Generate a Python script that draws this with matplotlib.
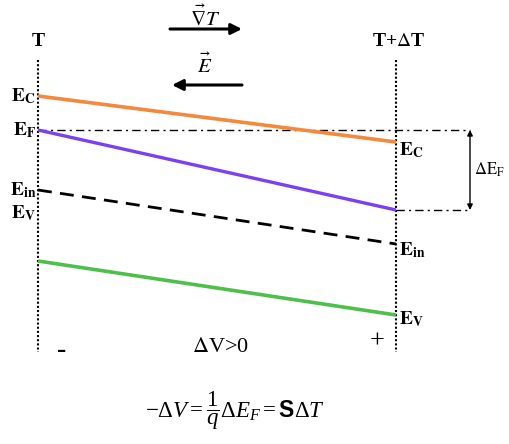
import matplotlib.pyplot as plt

plt.rcParams['font.family'] = ['Liberation Serif', 'DejaVu Serif']
plt.rcParams['mathtext.fontset'] = 'stix'
# custom math set, only used by the bottom formula (bold sans S)
plt.rcParams['mathtext.rm'] = 'Liberation Serif'
plt.rcParams['mathtext.it'] = 'Liberation Serif:italic'
plt.rcParams['mathtext.bf'] = 'Liberation Serif:bold'
plt.rcParams['mathtext.sf'] = 'Liberation Sans:bold'

# sample ends (cold side T, hot side T+dT) in pixel-like x units
x_ends = [38, 396]
# band energies at the two ends (screen y, down = lower energy)
ec = [96, 142]
ef = [130, 210]
e_in = [190, 244]
ev = [261, 315]

fig = plt.figure(figsize=(5.10, 4.44), dpi=100)
ax = fig.add_axes([0, 0, 1, 1])
ax.set_xlim(0, 510)
ax.set_ylim(444, 0)
ax.axis('off')

# the two contact planes
for xe in x_ends:
    ax.plot([xe, xe], [60, 352], color='black', ls=(0, (1, 1)), lw=1.5)

# Fermi level reference lines
ax.plot([x_ends[0], 470], [ef[0], ef[0]], color='black', ls=(0, (6, 3, 1.5, 3)), lw=1.0)
ax.plot([x_ends[1], 470], [ef[1], ef[1]], color='black', ls=(0, (6, 3, 1.5, 3)), lw=1.0)
ax.annotate('', xy=(470, ef[0]), xytext=(470, ef[1]),
            arrowprops=dict(arrowstyle='<|-|>', color='black', lw=1.0,
                            mutation_scale=8, shrinkA=0, shrinkB=0))
ax.text(474, (ef[0] + ef[1]) / 2, r'$\Delta\mathrm{E_F}$', fontsize=12,
        ha='left', va='center')

# bands
ax.plot(x_ends, ec, color='#f4883c', lw=2.6, solid_capstyle='butt')
ax.plot(x_ends, ef, color='#7a40f2', lw=2.4, solid_capstyle='butt')
ax.plot(x_ends, e_in, color='black', lw=2.0, ls=(0, (5, 3)))
ax.plot(x_ends, ev, color='#4dc04a', lw=2.6, solid_capstyle='butt')

# left labels
lab = dict(fontsize=14, ha='right', va='center')
ax.text(36, ec[0], r'$\mathbf{E_C}$', **lab)
ax.text(36, ef[0], r'$\mathbf{E_F}$', **lab)
ax.text(36, e_in[0], r'$\mathbf{E_{in}}$', **lab)
ax.text(36, 213, r'$\mathbf{E_V}$', **lab)

# right labels
rab = dict(fontsize=14, ha='left', va='center')
ax.text(399, ec[1] + 8, r'$\mathbf{E_C}$', **rab)
ax.text(399, e_in[1] + 6, r'$\mathbf{E_{in}}$', **rab)
ax.text(399, ev[1] + 4, r'$\mathbf{E_V}$', **rab)

# temperature labels
ax.text(38, 42, 'T', fontsize=14, fontweight='bold', ha='center', va='center')
ax.text(398, 42, r'T+$\Delta$T', fontsize=14, fontweight='bold',
        ha='center', va='center')

# gradient and field arrows
ax.annotate('', xy=(242, 29), xytext=(170, 29),
            arrowprops=dict(arrowstyle='-|>', color='black', lw=2.2,
                            mutation_scale=16, shrinkA=0, shrinkB=0))
ax.text(205, 17, r'$\vec{\nabla}T$', fontsize=15, ha='center', va='center')
ax.annotate('', xy=(172, 85), xytext=(242, 85),
            arrowprops=dict(arrowstyle='-|>', color='black', lw=2.2,
                            mutation_scale=16, shrinkA=0, shrinkB=0))
ax.text(205, 66, r'$\vec{E}$', fontsize=15, ha='center', va='center')

# polarity and voltage
ax.text(62, 350, '-', fontsize=20, fontweight='bold', ha='center', va='center')
ax.text(220, 347, r'$\Delta$V>0', fontsize=16, ha='center', va='center')
ax.text(377, 342, '+', fontsize=19, ha='center', va='center')

ax.text(235, 411, r'$-\Delta V = \dfrac{1}{q}\Delta E_F = \mathsf{S}\Delta T$',
        fontsize=16.5, ha='center', va='center', math_fontfamily='custom')

fig.savefig('out.png', dpi=100)
